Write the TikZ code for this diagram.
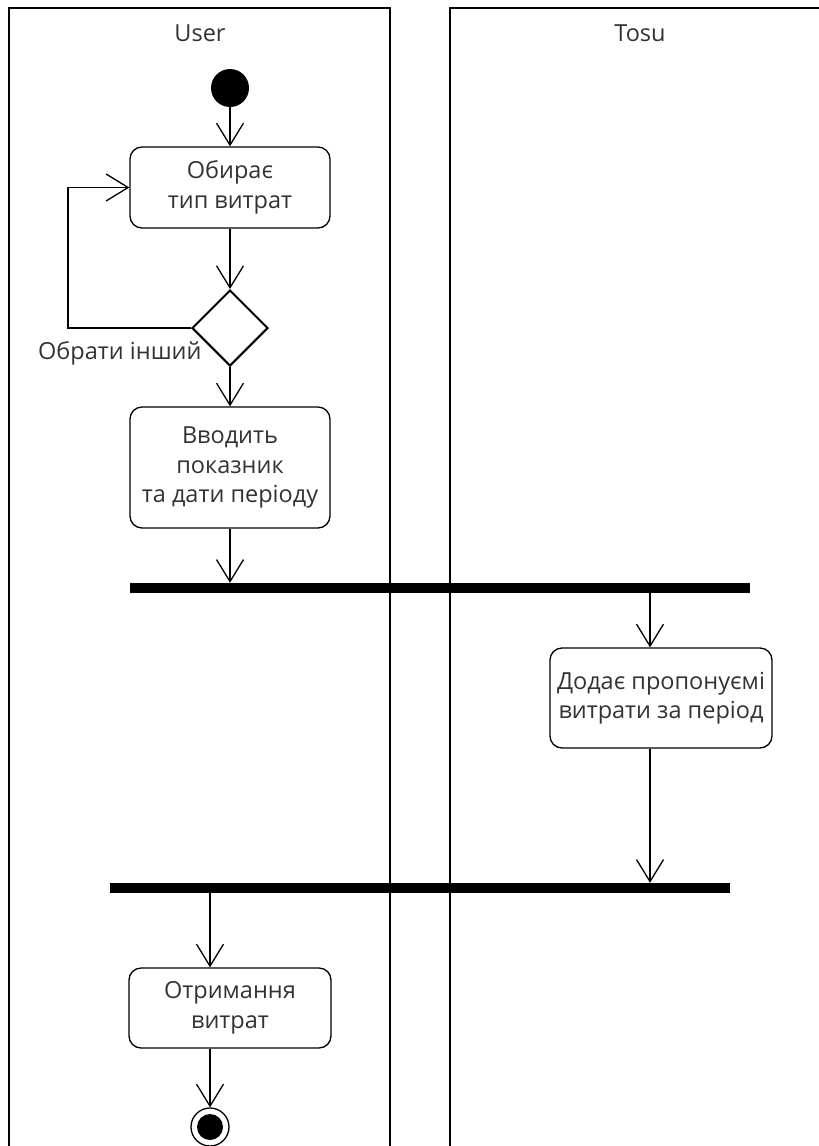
\documentclass[tikz,border=0pt]{standalone}
\usepackage{fontspec}
\setmainfont{Open Sans}
\usetikzlibrary{arrows.meta,shapes.geometric}
\definecolor{txt}{RGB}{50,50,50}
\begin{document}
\begin{tikzpicture}[x=1pt,y=-1pt,
  every node/.style={font=\fontsize{23.5}{29.5}\selectfont, text=txt},
  act/.style={draw=black, line width=1.3pt, rounded corners=12pt, align=center,
              inner sep=0pt},
  dec/.style={draw=black, line width=2pt, diamond, minimum width=76pt,
              minimum height=76pt, inner sep=0pt},
  bar/.style={fill=black, minimum height=10pt, inner sep=0pt},
  flow/.style={line width=1.3pt, -{Straight Barb[length=22pt,width=27pt,line width=1.3pt]}},
  lane/.style={line width=1.3pt}]
\useasboundingbox (0,0) rectangle (819,1146);

% swimlanes
\draw[lane] (9,1147) -- (9,8) -- (390,8) -- (390,1147);
\draw[lane] (450,1147) -- (450,8) -- (820,8);
\node (userlane) at (200,33) {User};
\node (tosulane) at (640,33) {Tosu};

% start and end states
\node[circle, fill=black, minimum size=38pt, inner sep=0pt] (start) at (230,88) {};
\node[circle, draw=black, line width=1.3pt, minimum size=38pt, inner sep=0pt] (finish) at (210,1127) {};
\fill (finish.center) circle (13pt);

% actions
\node[act, minimum width=200pt, minimum height=81pt] (choose) at (230,187.5) {Обирає\\тип витрат};
\node[dec] (check) at (230,328) {};
\node[act, minimum width=200pt, minimum height=121pt] (input) at (230,467.5) {Вводить\\показник\\та дати періоду};
\node[bar, minimum width=620pt] (fork) at (440,588) {};
\node[act, minimum width=222pt, minimum height=100pt] (offer) at (661,698) {Додає пропонуємі\\витрати за період};
\node[bar, minimum width=620pt] (join) at (420,888) {};
\node[act, minimum width=202pt, minimum height=80pt] (result) at (230,1008) {Отримання\\витрат};

\node[anchor=east] (other) at ([shift={(14,25)}]check.west) {Обрати інший};

% control flow
\draw[flow] (start) -- (choose);
\draw[flow] (choose) -- (check);
\draw[flow] (check.west) -- ++(-123,0) |- (choose.west);
\draw[flow] (check) -- (input);
\draw[flow] (input.south) -- (input.south |- fork.north);
\draw[flow] ([xshift=-11pt]offer.north |- fork.south) -- ([xshift=-11pt]offer.north);
\draw[flow] ([xshift=-11pt]offer.south) -- ([xshift=-11pt]offer.south |- join.north);
\draw[flow] ([xshift=-20pt]result.north |- join.south) -- ([xshift=-20pt]result.north);
\draw[flow] ([xshift=-20pt]result.south) -- (finish.north);
\end{tikzpicture}
\end{document}
